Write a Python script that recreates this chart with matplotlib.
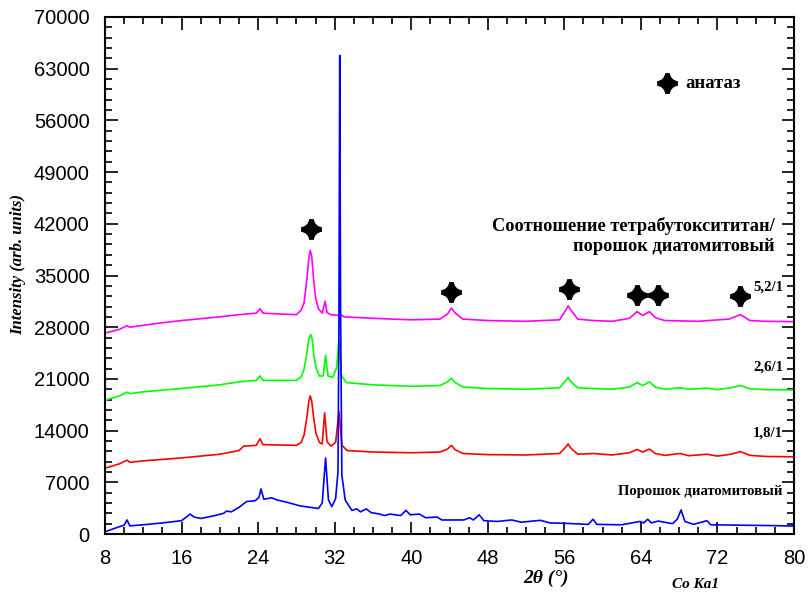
import matplotlib
matplotlib.use("Agg")
import matplotlib.pyplot as plt
from matplotlib.ticker import MultipleLocator
from matplotlib.path import Path

# --- XRD patterns: 2-theta (deg) and intensity (arb. units) ---
theta_52 = [8, 9.5, 10.3, 10.6, 12, 14, 16, 18, 20, 22, 23.8, 24.2, 24.5, 26, 28, 28.5,
            28.8, 29.1, 29.3, 29.45, 29.6, 29.8, 30.0, 30.3, 30.7, 31.0, 31.2, 31.6, 32.3,
            32.6, 33, 36, 40, 43.0, 43.8, 44.2, 44.6, 45.4, 48, 52, 55.5, 56.1, 56.4,
            56.7, 57.4, 59, 61, 62.8, 63.6, 64.2, 64.9, 65.5, 66.5, 70, 73.2, 74.4, 75.4,
            77, 80]
int_52 = [27200, 27700, 28200, 28000, 28250, 28600, 28900, 29150, 29400, 29700, 29900,
          30500, 29900, 29800, 29700, 30300, 31300, 34500, 37300, 38400, 37600, 34500,
          32000, 30500, 29900, 31500, 30000, 29700, 29600, 29700, 29400, 29200, 29000,
          29100, 29800, 30600, 29900, 29100, 28900, 28800, 29000, 30200, 30900, 30300,
          29100, 28900, 28800, 29200, 30100, 29600, 30100, 29300, 28900, 28800, 29100,
          29700, 28900, 28800, 28750]

theta_26 = [8, 9.5, 10.3, 10.6, 12, 16, 20, 22, 23.8, 24.2, 24.5, 28, 28.5, 28.8, 29.1,
            29.3, 29.5, 29.65, 29.85, 30.1, 30.4, 30.8, 31.05, 31.3, 31.8, 32.2, 32.45,
            32.7, 33.2, 36, 40, 43, 43.8, 44.2, 44.6, 45.4, 48, 52, 55.5, 56.1, 56.4,
            56.7, 57.4, 59, 61, 62.8, 63.6, 64.2, 64.9, 65.5, 66.5, 68.1, 69, 70.9, 72,
            73.4, 74.4, 75.4, 77, 80]
int_26 = [18100, 18700, 19200, 19000, 19250, 19700, 20200, 20600, 20800, 21400, 20800,
          20800, 21300, 22300, 24500, 26400, 27000, 26400, 24000, 22300, 21400, 21400,
          24200, 21400, 21200, 22500, 26200, 21500, 20500, 20200, 20000, 20100, 20600,
          21100, 20500, 19900, 19700, 19600, 19800, 20700, 21200, 20600, 19800, 19700,
          19600, 19900, 20500, 20100, 20600, 19900, 19600, 19800, 19600, 19750, 19550,
          19800, 20100, 19650, 19550, 19500]

theta_18 = [8, 9.5, 10.3, 10.6, 12, 16, 20, 22, 22.5, 23.8, 24.2, 24.5, 28, 28.5, 28.8,
            29.1, 29.3, 29.45, 29.6, 29.8, 30.05, 30.4, 30.7, 30.95, 31.2, 31.6, 32.1,
            32.45, 32.75, 33.3, 36, 40, 43, 43.8, 44.2, 44.6, 45.4, 48, 52, 55.5, 56.1,
            56.4, 56.7, 57.4, 59, 61, 62.8, 63.6, 64.2, 64.9, 65.5, 66.5, 68.1, 69, 70.9,
            72, 73.4, 74.4, 75.4, 77, 80]
int_18 = [8900, 9500, 10000, 9700, 9900, 10300, 10800, 11300, 11900, 12000, 12900,
          12100, 12000, 12400, 13400, 15800, 18000, 18700, 18000, 15800, 13600, 12400,
          12200, 16400, 12500, 11900, 12400, 16600, 12000, 11300, 11100, 11000, 11100,
          11500, 12000, 11400, 10900, 10750, 10700, 10900, 11700, 12200, 11600, 10800,
          10900, 10700, 11000, 11450, 11100, 11500, 10900, 10650, 10900, 10600, 10800,
          10550, 10800, 11150, 10650, 10500, 10450]

theta_dia = [8, 9.3, 10.0, 10.3, 10.6, 12, 14, 16.0, 16.5, 16.9, 17.3, 18, 19.5, 20.4,
             20.7, 21.2, 22, 22.8, 23.7, 24.1, 24.3, 24.6, 25.0, 25.4, 26, 27, 28.4,
             29.5, 30.3, 30.7, 31.05, 31.35, 31.7, 32.1, 32.35, 32.45, 32.53, 32.62,
             32.75, 33.1, 33.8, 34.3, 34.7, 35.3, 35.8, 36.7, 37.2, 37.8, 38.3, 38.9,
             39.45, 39.9, 40.85, 41.5, 42.7, 43.2, 45.5, 46.1, 46.5, 47.1, 47.6, 49,
             50.5, 51.5, 53.5, 54.5, 56, 58.5, 59.0, 59.4, 62, 63.9, 64.3, 64.7, 65.1,
             65.8, 67.3, 67.8, 68.2, 68.6, 69.5, 70.9, 71.3, 74, 77, 80]
int_dia = [300, 900, 1200, 1900, 1100, 1250, 1500, 1800, 2300, 2700, 2300, 2100, 2500,
           2800, 3100, 3000, 3600, 4400, 4500, 5000, 6100, 4700, 4800, 4900, 4600, 4300,
           3800, 3600, 3450, 4200, 10300, 4600, 3700, 4800, 8500, 30000, 64800, 30000,
           8000, 4600, 3200, 3400, 3000, 3400, 2900, 2700, 2500, 2700, 2600, 2500, 3200,
           2600, 2700, 2200, 2300, 1900, 1900, 2200, 1900, 2600, 1800, 1700, 1900, 1600,
           1850, 1500, 1450, 1300, 2000, 1300, 1250, 1700, 1500, 2000, 1500, 1750, 1400,
           2000, 3250, 1700, 1300, 1800, 1250, 1200, 1150, 1080]

# anatase reflections marked above the patterns
anatase_theta = [29.5, 44.2, 56.5, 63.55, 65.8, 74.4]
anatase_int = [41300, 32700, 33200, 32400, 32400, 32200]

series_labels = ["5,2/1", "2,6/1", "1,8/1", "Порошок диатомитовый"]
label_int = [33400, 22600, 13700, 5700]

x_ticks = [8, 16, 24, 32, 40, 48, 56, 64, 72, 80]
y_ticks = [0, 7000, 14000, 21000, 28000, 35000, 42000, 49000, 56000, 63000, 70000]

serif = "Liberation Serif"
sans = "Liberation Sans"


def star_marker(t=0.22, c=0.32):
    """Four-pointed star with blunt tips and concave sides."""
    verts, codes = [], []
    tips = [((1, -t), (1, t)), ((t, 1), (-t, 1)), ((-1, t), (-1, -t)), ((-t, -1), (t, -1))]
    ctrls = [(c, c), (-c, c), (-c, -c), (c, -c)]
    verts.append(tips[0][0]); codes.append(Path.MOVETO)
    for i in range(4):
        verts.append(tips[i][1]); codes.append(Path.LINETO)
        nxt = tips[(i + 1) % 4][0]
        verts.extend([ctrls[i], nxt]); codes.extend([Path.CURVE3, Path.CURVE3])
    verts.append(tips[0][0]); codes.append(Path.CLOSEPOLY)
    return Path(verts, codes)


marker = star_marker()

fig = plt.figure(figsize=(8.08, 5.93), dpi=100)
ax = fig.add_axes([105 / 808, 1 - 534 / 593, 689 / 808, 517 / 593])

lw = 1.2
ax.plot(theta_52, int_52, color="#FF00FF", lw=lw)
ax.plot(theta_26, int_26, color="#00FF00", lw=lw)
ax.plot(theta_18, int_18, color="#FF0000", lw=lw)
ax.plot(theta_dia, int_dia, color="#0000FF", lw=lw)

ax.plot(anatase_theta, anatase_int, ls="none", marker=marker, color="black",
        markersize=15, markeredgewidth=0)

ax.set_xlim(8, 80)
ax.set_ylim(0, 70000)
ax.set_xticks(x_ticks)
ax.set_yticks(y_ticks)
ax.xaxis.set_minor_locator(MultipleLocator(2))
ax.yaxis.set_minor_locator(MultipleLocator(1400))
ax.tick_params(which="both", direction="in", top=True, right=True, width=1.2)
ax.tick_params(which="major", length=9, labelsize=14.5, pad=11)
ax.tick_params(which="minor", length=5)
for lab in ax.get_xticklabels() + ax.get_yticklabels():
    lab.set_fontfamily(sans)
for sp in ax.spines.values():
    sp.set_linewidth(1.5)

# legend entry for the anatase marker
ax.plot([66.7], [61000], ls="none", marker=marker, color="black", markersize=15,
        markeredgewidth=0)
ax.text(68.7, 61000, "анатаз", family=serif, weight="bold", fontsize=13.5, va="center")

ax.text(78.0, 41700, "Соотношение тетрабутоксититан/", family=serif, weight="bold",
        fontsize=13.2, ha="right", va="center")
ax.text(78.0, 38900, "порошок диатомитовый", family=serif, weight="bold",
        fontsize=13.2, ha="right", va="center")

for txt, yv in zip(series_labels, label_int):
    ax.text(78.85, yv, txt, family=serif, weight="bold", fontsize=10.6,
            ha="right", va="center")

fig.text(18 / 808, 1 - 265 / 593, "Intensity (arb. units)", family=serif, weight="bold",
         style="italic", fontsize=12, rotation=90, ha="center", va="center")
fig.text(546 / 808, 1 - 578 / 593, "2θ (°)", family=serif, weight="bold",
         style="italic", fontsize=14, ha="center", va="center")
fig.text(696 / 808, 1 - 584 / 593, "Co Ka1", family=serif, weight="bold",
         style="italic", fontsize=11, ha="center", va="center")

fig.savefig("out.png", dpi=100)
